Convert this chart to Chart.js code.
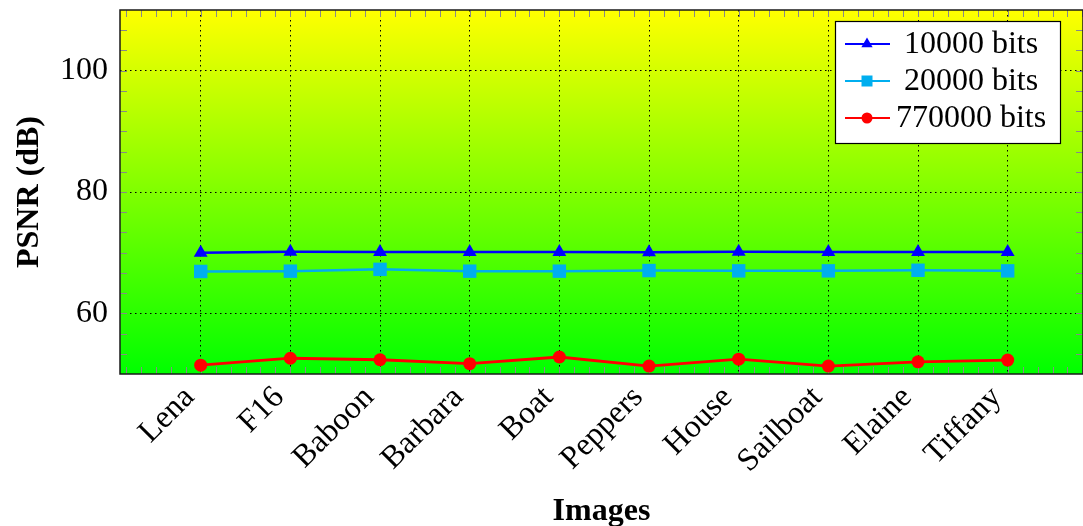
<!DOCTYPE html>
<html><head><meta charset="utf-8">
<script src="https://cdn.jsdelivr.net/npm/chart.js@4/dist/chart.umd.min.js"></script>
<style>html,body{margin:0;padding:0;background:#fff}#wrap{width:1083px;height:526px}</style>
</head><body><div id="wrap"><canvas id="c" width="1083" height="526"></canvas></div>
<script>
const categories = ['Lena','F16','Baboon','Barbara','Boat','Peppers','House','Sailboat','Elaine','Tiffany'];
const bits10000 = [70.0,70.15,70.1,70.1,70.1,70.05,70.15,70.1,70.1,70.1];
const bits20000 = [66.9,66.95,67.25,66.95,66.95,67.05,67.0,67.0,67.1,67.0];
const bits770000 = [51.45,52.6,52.35,51.7,52.8,51.3,52.45,51.3,52.0,52.3];
const seriesLabels = ['10000 bits','20000 bits','770000 bits'];
const yTicks = [60,80,100];
const xTicks = categories.map((c,i)=>i+1);

const SERIF = '"Liberation Serif","DejaVu Serif",serif';
const FS = 32;
const toPts = arr => arr.map((v,i)=>({x:i+1,y:v}));

const bgPlugin = {
  id:'bg',
  beforeDraw(chart){
    const {ctx, chartArea:a} = chart;
    const g = ctx.createLinearGradient(0,a.top,0,a.bottom);
    g.addColorStop(0,'#ffff00');
    g.addColorStop(1,'#00ff00');
    ctx.save(); ctx.fillStyle=g; ctx.fillRect(a.left,a.top,a.right-a.left,a.bottom-a.top); ctx.restore();
  }
};

const framePlugin = {
  id:'frame',
  beforeDatasetsDraw(chart){
    const {ctx, chartArea:a, scales} = chart;
    const xs = scales.x, ys = scales.y;
    ctx.save();
    ctx.strokeStyle='#888'; ctx.lineWidth=1;
    const tl=7;
    ctx.beginPath();
    for(let k=1;k<=66;k++){
      const v=k/6; if(v<=xs.min||v>=xs.max) continue;
      const px=Math.round(xs.getPixelForValue(v))+0.5;
      ctx.moveTo(px,a.bottom); ctx.lineTo(px,a.bottom-tl);
      ctx.moveTo(px,a.top); ctx.lineTo(px,a.top+tl);
    }
    for(let k=1;k<18;k++){
      const v=50+k*10/3;
      const py=Math.round(ys.getPixelForValue(v))+0.5;
      ctx.moveTo(a.left,py); ctx.lineTo(a.left+tl,py);
      ctx.moveTo(a.right,py); ctx.lineTo(a.right-tl,py);
    }
    ctx.stroke();
    ctx.strokeStyle='#1a1a1a'; ctx.lineWidth=1.5;
    ctx.strokeRect(a.left,a.top,a.right-a.left,a.bottom-a.top);
    ctx.restore();
  }
};

const legendPlugin = {
  id:'boxlegend',
  afterDraw(chart){
    const ctx=chart.ctx;
    const bx=835, by=21, bw=225, bh=122;
    ctx.save();
    ctx.fillStyle='#fff'; ctx.fillRect(bx,by,bw,bh);
    ctx.strokeStyle='#000'; ctx.lineWidth=1.2; ctx.strokeRect(bx+0.5,by+0.5,bw,bh);
    const rows=[44,81,118];
    chart.data.datasets.forEach((ds,i)=>{
      const y=rows[i];
      ctx.strokeStyle=ds.borderColor; ctx.lineWidth=2.2;
      ctx.beginPath(); ctx.moveTo(845,y); ctx.lineTo(890,y); ctx.stroke();
      ctx.fillStyle=ds.backgroundColor;
      const cx=867;
      ctx.beginPath();
      if(ds.pointStyle==='triangle'){
        const r=6.5; ctx.moveTo(cx,y-r); ctx.lineTo(cx+r*0.866,y+r/2); ctx.lineTo(cx-r*0.866,y+r/2); ctx.closePath();
      } else if(ds.pointStyle==='rect'){
        ctx.rect(cx-5.5,y-5.5,11,11);
      } else {
        ctx.arc(cx,y,5.5,0,Math.PI*2);
      }
      ctx.fill();
      ctx.fillStyle='#000'; ctx.font=FS+'px '+SERIF; ctx.textAlign='center'; ctx.textBaseline='middle';
      ctx.fillText(ds.label,971,y+1);
    });
    ctx.restore();
  }
};

new Chart(document.getElementById('c'),{
  type:'line',
  data:{datasets:[
    {label:seriesLabels[0],data:toPts(bits10000),borderColor:'#0000ff',backgroundColor:'#0000ff',borderWidth:2.5,pointStyle:'triangle',pointRadius:8,pointBorderWidth:0,tension:0},
    {label:seriesLabels[1],data:toPts(bits20000),borderColor:'#00aeef',backgroundColor:'#00aeef',borderWidth:2.5,pointStyle:'rect',pointRadius:9.5,pointBorderWidth:0,tension:0},
    {label:seriesLabels[2],data:toPts(bits770000),borderColor:'#ff0000',backgroundColor:'#ff0000',borderWidth:2.8,pointStyle:'circle',pointRadius:6.5,pointBorderWidth:0,tension:0}
  ]},
  options:{
    responsive:false, animation:false, devicePixelRatio:1,
    layout:{autoPadding:false,padding:{top:10,right:0,left:0,bottom:0}},
    plugins:{legend:{display:false},tooltip:{enabled:false}},
    scales:{
      x:{type:'linear',min:0.1,max:10.84,
        afterBuildTicks(s){s.ticks=xTicks.map(v=>({value:v}));},
        afterFit(s){s.height=152;s.paddingLeft=0;s.paddingRight=0;s.paddingTop=0;s.paddingBottom=0;},
        ticks:{autoSkip:false,minRotation:45,maxRotation:45,padding:5,labelOffset:-11,color:'#000',font:{family:SERIF,size:FS},
          callback:(v)=>categories[Math.round(v)-1]},
        grid:{color:'#000',lineWidth:1,drawTicks:false},
        border:{display:false,dash:[1.5,3.5]},
        title:{display:true,text:'Images',color:'#000',font:{family:SERIF,size:FS,weight:'bold'},padding:{top:0,bottom:-5}}
      },
      y:{min:50,max:110,
        afterBuildTicks(s){s.ticks=yTicks.map(v=>({value:v}));},
        afterFit(s){s.width=120;s.paddingLeft=0;s.paddingRight=0;s.paddingTop=0;s.paddingBottom=0;},
        ticks:{padding:12,color:'#000',font:{family:SERIF,size:FS}},
        grid:{color:'#000',lineWidth:1,drawTicks:false},
        border:{display:false,dash:[1.5,3.5]},
        title:{display:true,text:'PSNR (dB)',color:'#000',font:{family:SERIF,size:FS,weight:'bold'},padding:{top:11,bottom:0}}
      }
    }
  },
  plugins:[bgPlugin,framePlugin,legendPlugin]
});
</script></body></html>
